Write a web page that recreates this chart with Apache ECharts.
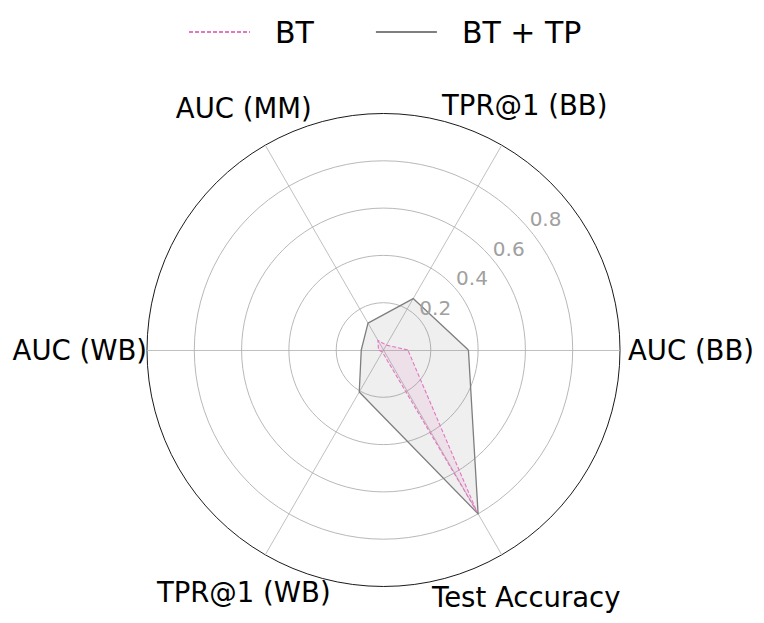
<!DOCTYPE html>
<html>
<head>
<meta charset="utf-8">
<script src="https://cdn.jsdelivr.net/npm/echarts@6/dist/echarts.min.js"></script>
<style>
  html, body { margin: 0; padding: 0; background: #fff; }
  #main { width: 764px; height: 623px; }
</style>
</head>
<body>
<div id="main"></div>
<script>
// axes, counter-clockwise from the right
var metrics = ['AUC (BB)', 'TPR@1 (BB)', 'AUC (MM)', 'AUC (WB)', 'TPR@1 (WB)', 'Test Accuracy'];
var seriesNames = ['BT', 'BT + TP'];
var bt = [0.103, 0.024, 0.047, 0.021, 0.01, 0.79];
var btTp = [0.359, 0.251, 0.131, 0.094, 0.205, 0.80];
var rTickLabels = ['0.2', '0.4', '0.6', '0.8'];

var FONT = 'DejaVu Sans';
var cx = 383.5, cy = 350, R = 236.5;

// label placement per axis (gap from the circle, alignment)
var nameGaps = [8, 46, 43, 0, 43, 49];
var nameAligns = ['left', 'center', 'center', 'right', 'center', 'center'];

var myChart = echarts.init(document.getElementById('main'), null, { renderer: 'svg' });

myChart.setOption({
    backgroundColor: '#ffffff',
    animation: false,
    legend: {
        data: seriesNames,
        left: 188,
        top: 17,
        padding: 0,
        itemWidth: 61,
        itemHeight: 14,
        itemGap: 61,
        itemStyle: { opacity: 0 },
        textStyle: {
            fontSize: 30,
            fontFamily: FONT,
            color: '#000',
            padding: [0, 0, 0, 20]
        }
    },
    radar: {
        center: [cx, cy],
        radius: R,
        startAngle: 0,
        shape: 'circle',
        splitNumber: 5,
        indicator: metrics.map(function (m, i) {
            return {
                name: m,
                min: 0,
                max: 1,
                nameGap: nameGaps[i],
                nameTextStyle: { align: nameAligns[i], verticalAlign: 'middle' }
            };
        }),
        axisName: {
            color: '#000',
            fontSize: 27.5,
            fontFamily: FONT
        },
        axisLine: { lineStyle: { color: '#b0b0b0', width: 0.8 } },
        splitLine: {
            lineStyle: {
                color: ['#b0b0b0', '#b0b0b0', '#b0b0b0', '#b0b0b0', '#b0b0b0', '#000000'],
                width: 0.9
            }
        },
        splitArea: { show: false },
        axisTick: { show: false },
        axisLabel: { show: false }
    },
    polar: {
        center: [cx, cy],
        radius: R
    },
    angleAxis: {
        type: 'value',
        min: 0,
        max: 360,
        startAngle: 39,
        show: false
    },
    radiusAxis: {
        type: 'value',
        min: 0,
        max: 1,
        interval: 0.2,
        z: 5,
        axisLine: { show: false },
        axisTick: { show: false },
        splitLine: { show: false },
        axisLabel: {
            margin: 0,
            align: 'center',
            verticalAlign: 'bottom',
            padding: [0, 0, 2, 30],
            color: '#a0a0a0',
            fontSize: 20,
            fontFamily: FONT,
            formatter: function (v) {
                var s = v.toFixed(1);
                return rTickLabels.indexOf(s) >= 0 ? s : '';
            }
        }
    },
    series: [{
        name: 'radar',
        type: 'radar',
        symbol: 'none',
        data: [{
            name: seriesNames[1],
            value: btTp,
            lineStyle: { color: '#7f7f7f', width: 1.3, type: 'solid' },
            areaStyle: { color: 'rgba(127,127,127,0.18)' }
        }, {
            name: seriesNames[0],
            value: bt,
            lineStyle: { color: '#e377c2', width: 1.1, type: [4, 2] },
            areaStyle: { color: 'rgba(227,119,194,0.18)' }
        }]
    }, {
        // legend entries
        type: 'line',
        name: seriesNames[0],
        coordinateSystem: 'polar',
        symbol: 'none',
        data: [],
        itemStyle: { color: '#e377c2' },
        lineStyle: { color: '#e377c2', width: 1, type: [4, 2] }
    }, {
        type: 'line',
        name: seriesNames[1],
        coordinateSystem: 'polar',
        symbol: 'none',
        data: [],
        itemStyle: { color: '#7f7f7f' },
        lineStyle: { color: '#7f7f7f', width: 1.3 }
    }]
});
</script>
</body>
</html>
